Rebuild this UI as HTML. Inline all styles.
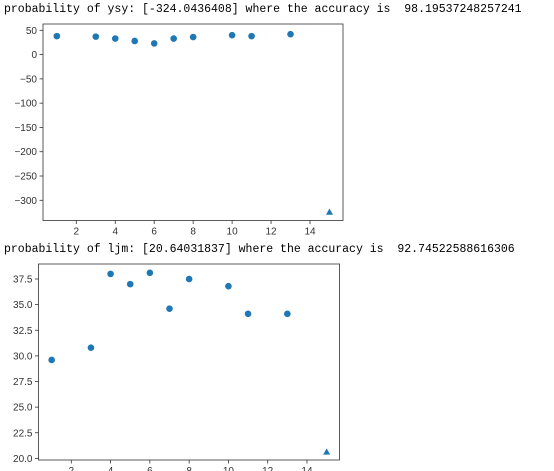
<!DOCTYPE html>
<html><head><meta charset="utf-8"><style>
body{margin:0;background:#fff;width:554px;height:471px;overflow:hidden;position:relative}
.t{position:absolute;left:4px;font:11.5px "Liberation Mono",monospace;color:#000;white-space:pre}
svg{position:absolute;left:0;top:0}
</style></head><body>
<div class="t" style="top:3px">probability of ysy: [-324.0436408] where the accuracy is  98.19537248257241</div>
<div class="t" style="top:243px">probability of ljm: [20.64031837] where the accuracy is  92.74522588616306</div>
<svg width="554" height="471" id="s"></svg>
<script>
const xs=[1,3,4,5,6,7,8,10,11,13];
const ysy=[38,37,33,28,23,33,36,40,38,42];
const ysyPred=[15,-324.04];
const ljm=[29.6,30.8,38.0,37.0,38.1,34.6,37.5,36.8,34.1,34.1];
const ljmPred=[15,20.64];
const xTicks=[2,4,6,8,10,12,14];
const yTicks1=[50,0,-50,-100,-150,-200,-250,-300];
const yTicks2=[37.5,35.0,32.5,30.0,27.5,25.0,22.5,20.0];
const NS="http://www.w3.org/2000/svg";
const svg=document.getElementById('s');
function mk(t,a){const e=document.createElementNS(NS,t);for(const k in a)e.setAttribute(k,a[k]);svg.appendChild(e);return e;}
function chart(name,box,sx,sy,ys,pred,yt,dec){
  const r=mk('rect',{x:box[0],y:box[1],width:box[2]-box[0],height:box[3]-box[1],fill:'none',stroke:'#333','stroke-width':0.8});
  
  
  xTicks.forEach(v=>{const x=sx(v);
    mk('line',{x1:x,x2:x,y1:box[3],y2:box[3]+3.5,stroke:'#333','stroke-width':0.8});
    const t=mk('text',{x:x,y:box[3]+14,'text-anchor':'middle','font-size':10,'font-family':'Liberation Sans, sans-serif',fill:'#333'});
    t.textContent=v;
    
    });
  yt.forEach(v=>{const y=sy(v);
    mk('line',{x1:box[0]-3.5,x2:box[0],y1:y,y2:y,stroke:'#333','stroke-width':0.8});
    const t=mk('text',{x:box[0]-6,y:y+3.5,'text-anchor':'end','font-size':10,'font-family':'Liberation Sans, sans-serif',fill:'#333'});
    t.textContent=dec?v.toFixed(1):String(v).replace('-','\u2212');
    
    });
  xs.forEach((x,i)=>{const c=mk('circle',{cx:sx(x),cy:sy(ys[i]),r:3.3,fill:'#1f77b4'});
    
    });
  const px=sx(pred[0]),py=sy(pred[1]);
  const p=mk('polygon',{points:`${px},${py-3.5} ${px-3.5},${py+2.8} ${px+3.5},${py+2.8}`,fill:'#1f77b4'});
  
  
}
chart('ysy',[43,24,343,220.5],v=>76.3+(v-2)*19.475,v=>30.3+(50-v)*0.4857,ysy,ysyPred,yTicks1,false);
chart('ljm',[38.5,264,339.5,460],v=>71.3+(v-2)*19.64,v=>279+(37.5-v)*10.25,ljm,ljmPred,yTicks2,true);
</script>
</body></html>
